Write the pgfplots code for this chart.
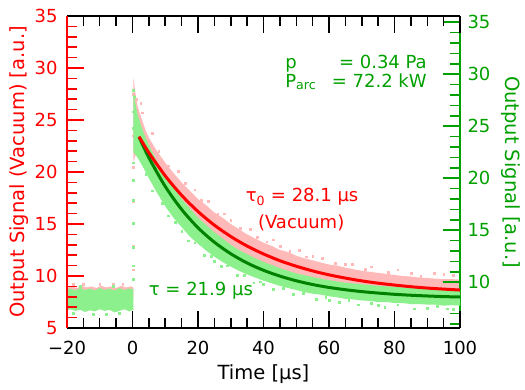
\documentclass[border=0pt]{standalone}
\usepackage{fontspec}
\setmainfont{DejaVu Sans}
\usepackage{pgfplots}
\pgfplotsset{compat=1.18}
\definecolor{pinkpt}{RGB}{255,185,185}
\definecolor{lgreen}{RGB}{140,240,140}
\definecolor{dgreen}{RGB}{0,130,0}
\definecolor{tgreen}{RGB}{0,160,0}
\definecolor{myred}{RGB}{255,0,0}
\newcommand{\fs}{\fontsize{18}{21}\selectfont}
\newcommand{\fl}{\fontsize{19.5}{22}\selectfont}
\pgfplotsset{
  base/.style={width=393pt, height=312pt, scale only axis, xmin=-20, xmax=100,
    /pgf/number format/assume math mode=true, tick align=inside,
    major tick length=17pt, minor tick length=10pt,
    axis line style={line width=1.6pt,-}, tick style={line width=1.5pt},
    ticklabel style={font=\fs}, label style={font=\fl}},
}
\begin{document}
\begin{tikzpicture}
\useasboundingbox (-67pt,-61pt) rectangle (458pt,328pt);
% ---------------- pink (vacuum) data, left scale
\begin{axis}[base, ymin=5, ymax=35, hide axis]
\addplot[fill=pinkpt, draw=none] coordinates {(-20,7.9) (-20,8.85) (-18.5,9.0) (-17,8.85) (-15.5,9.05) (-14,8.9) (-12.5,9.0) (-11,8.85) (-9.5,9.05) (-8,8.9) (-6.5,9.0) (-5,8.85) (-3.5,9.05) (-2,8.9) (-0.5,9.0) (0.3,8.9) (0.3,7.9)} -- cycle;
\addplot[fill=pinkpt, draw=none] coordinates {(0.3,29.0) (0.8,27.8) (1.5,26.4) (2.5,25.4) (4,24.0) (5,23.3) (7.5,22.0) (10,20.9) (12.5,19.9) (15,19.0) (17.5,18.2) (20,17.4) (22.5,16.8) (25,16.1) (27.5,15.6) (30,15.0) (32.5,14.5) (35,14.0) (37.5,13.6) (40,13.2) (42.5,12.9) (45,12.5) (47.5,12.3) (50,11.95) (52.5,11.7) (55,11.5) (57.5,11.3) (60,11.1) (62.5,11.0) (65,10.8) (67.5,10.65) (70,10.5) (72.5,10.4) (75,10.3) (77.5,10.2) (80,10.1) (82.5,10.0) (85,9.95) (87.5,9.85) (90,9.8) (92.5,9.75) (95,9.7) (97.5,9.7) (100,9.65) (100,7.8) (90,7.9) (80,8.2) (70,8.6) (60,9.1) (50,9.9) (40,11.0) (35,11.7) (30,12.6) (25,13.7) (20,15.0) (15,16.5) (10,18.3) (7.5,19.3) (5,20.4) (3,21.4) (1.5,22.0) (0.8,21.5) (0.3,21.0)} -- cycle;
\addplot[only marks, mark=square*, mark size=0.9pt, color=pinkpt] coordinates {(0.1,10.6) (0.1,12.9) (0.1,17.2) (0.1,20.5) (0.2,23.5) (0.2,27.5) (1.2,27.0) (2.5,26.6) (30,15.4) (45,12.9) (55,11.9) (65,11.1) (85,10.3) (95,10.2) (98,10.1) (-15,9.25) (-6,9.2) (3,25.7) (6,23.7) (8,22.0) (11,20.6) (14,20.1) (16,18.9) (19,18.3) (21,17.3) (23,17.2) (26,16.0) (28,16.0) (33,14.6) (36,14.5) (38,13.7) (41,13.3) (43,13.5) (48,12.4) (51,12.5) (53,11.85) (58,11.75) (62,11.2) (67,11.1) (71,10.65) (73,10.9) (78,10.35) (81,10.6) (88,10.0) (92,10.25) (-18,9.2) (-10,9.25) (-3,9.2)};
\end{axis}
% ---------------- green data, right scale
\begin{axis}[base, ymin=5.6, ymax=35.6, axis x line=none, axis y line*=right,
  y axis line style={tgreen}, ytick={10,15,...,35}, minor ytick={6,...,35},
  ytick style={tgreen}, yticklabel style={tgreen, xshift=4pt},
  ylabel={Output Signal [a.u.]},
  every axis y label/.style={at={(axis description cs:1.1145,0.5)}, rotate=-90, anchor=base, color=tgreen, font=\fl}]
\addplot[fill=lgreen, draw=none] coordinates {(-20,7.3) (-20,9.25) (-19,9.4) (-17.5,9.2) (-16,9.45) (-14.5,9.25) (-13,9.4) (-11.5,9.2) (-10,9.45) (-8.5,9.25) (-7,9.4) (-5.5,9.2) (-4,9.45) (-2.5,9.25) (-1,9.4) (0.3,9.3) (0.3,7.35) (-1,7.2) (-2.5,7.4) (-4,7.25) (-5.5,7.1) (-7,7.35) (-8.5,7.25) (-10,7.4) (-11.5,7.2) (-13,7.3) (-14.5,7.15) (-16,7.35) (-17.5,7.25) (-19,7.4)} -- cycle;
\addplot[fill=lgreen, draw=none] coordinates {(0.3,28.2) (0.8,27.3) (1.5,26.2) (2.5,25.2) (4,23.9) (5,23.2) (7.5,21.6) (10,20.3) (12.5,19.1) (15,18.0) (17.5,17.1) (20,16.2) (22.5,15.5) (25,14.8) (27.5,14.2) (30,13.6) (32.5,13.1) (35,12.7) (37.5,12.3) (40,11.95) (42.5,11.65) (45,11.35) (47.5,11.1) (50,10.85) (55,10.5) (60,10.2) (65,9.95) (70,9.8) (75,9.65) (80,9.55) (85,9.45) (90,9.4) (95,9.35) (100,9.3) (100,7.75) (97.5,7.8) (95,7.75) (92.5,7.85) (90,7.85) (87.5,7.9) (85,7.9) (82.5,8.0) (80,8.0) (77.5,8.1) (75,8.1) (72.5,8.2) (70,8.25) (67.5,8.35) (65,8.4) (62.5,8.55) (60,8.65) (57.5,8.8) (55,8.9) (52.5,9.05) (50,9.25) (47.5,9.45) (45,9.65) (42.5,9.9) (40,10.15) (37.5,10.45) (35,10.75) (32.5,11.1) (30,11.5) (27.5,11.95) (25,12.45) (22.5,13.05) (20,13.7) (17.5,14.4) (15,15.3) (12.5,16.2) (10,17.3) (7.5,18.6) (5,20.0) (3,21.2) (1.5,22.0) (0.8,22.3) (0.3,22.5)} -- cycle;
\addplot[only marks, mark=square*, mark size=0.9pt, color=lgreen] coordinates {(0.1,10.3) (0.1,11.6) (0.1,13.4) (0.1,15.7) (0.1,17.9) (0.1,19.8) (0.1,21.5) (0.2,24.8) (0.2,26.4) (0.3,28.5) (0.5,27.8) (15,14.9) (25,12.0) (40,9.8) (60,8.3) (75,7.8) (90,7.5) (98,7.4) (-12,6.95) (-4,7.0) (4,20.4) (6,18.8) (9,17.6) (11,16.4) (13,15.8) (17,14.0) (19,13.8) (22,12.6) (24,12.5) (27,11.55) (29,11.6) (32,10.65) (34,10.7) (37,9.95) (39,10.05) (43,9.35) (46,9.4) (49,8.85) (52,8.95) (56,8.4) (59,8.55) (63,8.05) (66,8.25) (69,7.85) (73,8.0) (77,7.6) (81,7.85) (86,7.45) (93,7.7) (96,7.45) (-18,7.05) (-8,6.95) (-16,9.65) (-6,9.6)};
\addplot[dgreen, line width=3pt, smooth] coordinates {(2,23.97) (5,21.98) (10,19.21) (15,17.00) (20,15.24) (25,13.85) (30,12.74) (35,11.85) (40,11.15) (45,10.59) (50,10.14) (55,9.78) (60,9.50) (65,9.28) (70,9.10) (75,8.96) (80,8.84) (85,8.75) (90,8.68) (95,8.62) (100,8.58)};
\end{axis}
% ---------------- frame, red fit, texts, left scale
\begin{axis}[base, ymin=5, ymax=35, axis x line*=box, axis y line*=left,
  x axis line style={black}, y axis line style={myred},
  xtick={-20,0,...,100}, xticklabels={−20,0,20,40,60,80,100}, minor xtick={-20,-15,...,100},
  ytick={5,10,...,35}, minor ytick={5,...,35},
  xtick style={black}, ytick style={myred},
  xticklabel style={black, yshift=-10pt}, yticklabel style={myred, xshift=-6pt},
  xlabel={Time [μs]}, ylabel={Output Signal (Vacuum) [a.u.]},
  every axis x label/.style={at={(axis description cs:0.5,0)}, anchor=base, yshift=-51pt, font=\fl},
  every axis y label/.style={at={(axis description cs:-0.1069,0.5)}, rotate=90, anchor=base, color=myred, font=\fl}]
\addplot[myred, line width=3pt, smooth] coordinates {(2,23.40) (5,21.86) (10,19.63) (15,17.76) (20,16.20) (25,14.89) (30,13.80) (35,12.88) (40,12.12) (45,11.47) (50,10.94) (55,10.49) (60,10.11) (65,9.80) (70,9.53) (75,9.31) (80,9.13) (85,8.97) (90,8.84) (95,8.74) (100,8.65)};
\node[myred, font=\fs, anchor=base, inner sep=0pt] at (axis cs:51.8,17.12) {τ\textsubscript{0} = 28.1 μs};
\node[myred, font=\fs, anchor=base, inner sep=0pt] at (axis cs:51.5,14.52) {(Vacuum)};
\node[tgreen, font=\fs, anchor=base, inner sep=0pt] at (axis cs:20.9,8.17) {τ = 21.9 μs};
\node[tgreen, font=\fs, anchor=base west, inner sep=0pt] at (axis cs:46.6,30.0) {p};
\node[tgreen, font=\fs, anchor=base east, inner sep=0pt] at (axis cs:89.9,30.0) {= 0.34 Pa};
\node[tgreen, font=\fs, anchor=base west, inner sep=0pt] at (axis cs:46.6,28.17) {P\textsubscript{arc}};
\node[tgreen, font=\fs, anchor=base east, inner sep=0pt] at (axis cs:89.9,28.17) {= 72.2 kW};
\end{axis}
\end{tikzpicture}
\end{document}
